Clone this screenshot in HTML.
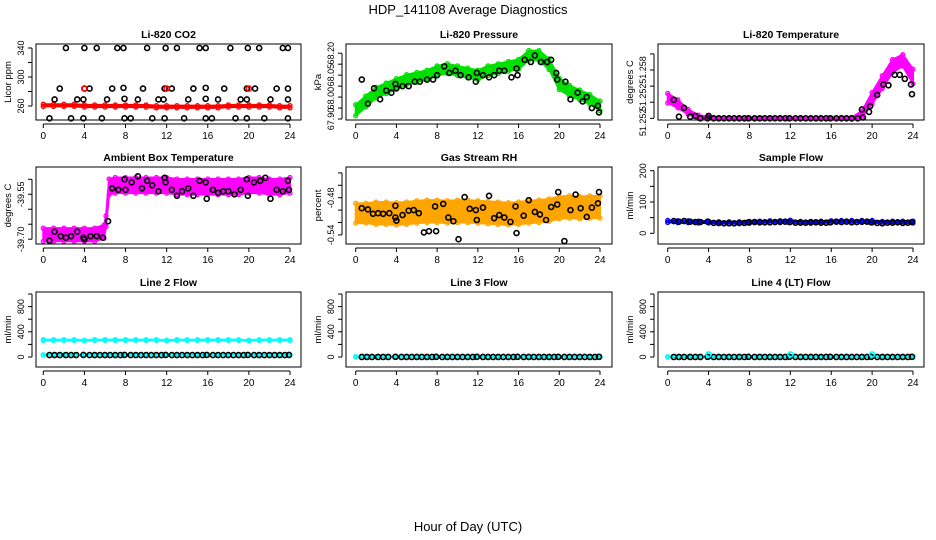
<!DOCTYPE html>
<html><head><meta charset="utf-8"><style>
html,body{margin:0;padding:0;background:#fff}
svg{display:block;font-family:"Liberation Sans",sans-serif}
</style></head><body>
<svg id="chart" width="936" height="540" viewBox="0 0 936 540" xmlns="http://www.w3.org/2000/svg">
<rect width="936" height="540" fill="#fff"/>
<text x="468" y="14" text-anchor="middle" font-size="13">HDP_141108  Average Diagnostics</text>
<text x="468" y="531" text-anchor="middle" font-size="13">Hour of Day (UTC)</text>
</svg>
<script>
// ---- shared data ----
const bandHours=[0,1,2,3,4,5,6,7,8,9,10,11,12,13,14,15,16,17,18,19,20,21,22,23,24];
const xTicks=[0,4,8,12,16,20,24];
const halfHours=[0.6,1.1,1.6,2.2,2.7,3.2,3.9,4.5,5.0,5.5,6.0,6.5,7.0,7.5,7.9,8.5,9.0,9.5,10.0,10.5,11.0,11.5,11.9,12.5,13.0,13.5,14.0,14.5,15.0,15.5,15.9,16.5,17.0,17.5,18.0,18.5,19.0,19.5,19.9,20.5,21.0,21.5,22.0,22.5,23.0,23.5,23.9];

// Panel 1: CO2
const co2Band=[261,261,261,261,260,260,260,260,260,260,260,259,259,259,259,259,259,259,260,260,260,260,260,259,259];
const co2BandHalf=[1.5,1.5,1.5,1.5,1.5,1.5,1.5,1.5,1.5,1.5,1.5,1.5,1.5,1.5,1.5,1.5,1.5,1.5,1.5,1.5,1.5,1.5,1.5,1.5,1.5];
const co2PtsX=[2.2,4,5.2,7.2,7.8,10.1,11.9,13,15.2,15.8,18.2,19.9,21,23.3,23.8, 1.6,4,4.5,6.7,7.8,9.7,11.8,12.5,14.6,15.8,17.6,19.8,20.6,22.7,23.8, 1.1,3.3,3.9,6.2,7.9,9.2,11.2,11.7,14.1,15.8,17,19.2,19.8,22.1,23.8, 0.6,2.7,3.9,5.7,7.9,8.5,10.6,11.8,13.7,15.8,16.4,18.7,19.8,21.5,23.8];
const co2PtsY=[340,340,340,340,340,340,340,340,340,340,340,340,340,340,340, 284,284,284,284,285,284,284,284,284,285,284,284,284,284,284, 269,269,269,269,270,269,269,269,269,270,269,269,269,269,269, 243,243,243,243,243,243,243,243,243,243,243,243,243,243,243];
const co2RedX=[4,12,20];
const co2RedY=[284,284,284];

// Panel 2: Pressure
const presBand=[67.94,67.98,68.02,68.04,68.06,68.08,68.09,68.10,68.12,68.13,68.12,68.11,68.10,68.12,68.13,68.14,68.15,68.19,68.19,68.15,68.06,68.03,68.01,67.99,67.96];
const presBandHalf=[0.025,0.025,0.024,0.024,0.024,0.022,0.022,0.022,0.022,0.022,0.022,0.022,0.022,0.022,0.022,0.022,0.022,0.022,0.022,0.024,0.026,0.024,0.022,0.022,0.022];
const presPtsX=[0.6,1.2,1.8,2.4,3,3.5,3.9,4,4.6,5.2,5.8,6.3,7,7.6,8,8.7,9.2,9.8,10.3,11.1,11.8,11.9,12.5,13.1,13.6,14.1,14.6,15.3,15.8,15.9,16.6,17.2,17.6,18.2,18.8,19.2,19.7,19.8,20.6,21.1,21.8,22.3,22.7,23.2,23.8,23.9];
const presPtsY=[68.08,67.97,68.04,67.99,68.03,68.02,68.06,68.04,68.05,68.05,68.07,68.07,68.08,68.08,68.10,68.14,68.11,68.12,68.10,68.09,68.07,68.11,68.10,68.09,68.10,68.12,68.12,68.09,68.13,68.10,68.17,68.16,68.19,68.16,68.16,68.17,68.11,68.08,68.07,67.99,68.02,67.98,68.00,67.95,67.96,67.93];

// Panel 3: Temperature
const tempBand=[51.2545,51.2538,51.2528,51.2522,51.2521,51.2520,51.2520,51.2520,51.2520,51.2520,51.2520,51.2520,51.2520,51.2520,51.2520,51.2520,51.2520,51.2520,51.2520,51.2525,51.2545,51.2565,51.2585,51.2592,51.2572];
const tempBandHalf=[0.0006,0.0005,0.0003,0.0002,0.0001,0.00005,0.00005,0.00005,0.00005,0.00005,0.00005,0.00005,0.00005,0.00005,0.00005,0.00005,0.00005,0.00005,0.0001,0.0004,0.0007,0.0008,0.0008,0.0007,0.0009];
const tempPtsX=[0.6,1.1,1.6,2.2,2.7,3.2,3.9,4.0,4.5,5.0,5.5,6.0,6.5,7.0,7.5,7.9,8.5,9.0,9.5,10.0,10.5,11.0,11.5,11.9,12.5,13.0,13.5,14.0,14.5,15.0,15.5,15.9,16.5,17.0,17.5,18.0,18.6,19.0,19.1,19.7,19.8,20.5,21.1,21.6,22.2,22.7,23.2,23.8,23.9];
const tempPtsY=[51.2543,51.2522,51.2533,51.2522,51.2523,51.2520,51.2520,51.2523,51.2520,51.2520,51.2520,51.2520,51.2520,51.2520,51.2520,51.2520,51.2520,51.2520,51.2520,51.2520,51.2520,51.2520,51.2520,51.2520,51.2520,51.2520,51.2520,51.2520,51.2520,51.2520,51.2520,51.2520,51.2520,51.2520,51.2520,51.2520,51.2520,51.2531,51.2521,51.2528,51.2535,51.2549,51.2562,51.2561,51.2574,51.2574,51.2569,51.2562,51.2550];

// Panel 4: Ambient box temperature
const ambHours=[0,1,2,3,4,5,5.9,6.1,6.4,7,8,9,10,11,12,13,14,15,16,17,18,19,20,21,22,23,24];
const ambBand=[-39.685,-39.685,-39.685,-39.685,-39.685,-39.685,-39.675,-39.64,-39.525,-39.52,-39.52,-39.52,-39.52,-39.52,-39.52,-39.525,-39.525,-39.525,-39.525,-39.525,-39.525,-39.525,-39.52,-39.52,-39.525,-39.525,-39.52];
const ambBandHalf=[0.022,0.022,0.022,0.022,0.022,0.022,0.022,0.018,0.026,0.026,0.026,0.026,0.026,0.026,0.026,0.026,0.026,0.026,0.026,0.026,0.026,0.026,0.026,0.026,0.026,0.026,0.026];
const ambPtsX=[0.6,1.1,1.7,2.2,2.7,3.3,3.9,4,4.6,5.2,5.8,6.3,6.7,7.3,7.9,8,8.6,9.2,9.6,10.1,10.6,11.2,11.8,11.9,12.5,13,13.5,14.1,14.6,15.2,15.8,15.9,16.5,17,17.5,18,18.6,19.2,19.8,19.9,20.5,21.1,21.6,22.1,22.7,23.3,23.8,23.9];
const ambPtsY=[-39.705,-39.675,-39.69,-39.695,-39.69,-39.675,-39.695,-39.70,-39.69,-39.69,-39.695,-39.64,-39.53,-39.535,-39.50,-39.535,-39.51,-39.49,-39.53,-39.505,-39.52,-39.54,-39.495,-39.51,-39.535,-39.555,-39.54,-39.53,-39.555,-39.505,-39.51,-39.565,-39.535,-39.545,-39.54,-39.54,-39.55,-39.535,-39.50,-39.555,-39.51,-39.505,-39.495,-39.565,-39.535,-39.54,-39.505,-39.535];

// Panel 5: Gas stream RH
const rhBand=[-0.505,-0.505,-0.505,-0.505,-0.506,-0.505,-0.503,-0.502,-0.502,-0.503,-0.502,-0.502,-0.503,-0.504,-0.505,-0.506,-0.505,-0.503,-0.502,-0.500,-0.496,-0.495,-0.496,-0.495,-0.495];
const rhBandHalf=[0.016,0.016,0.018,0.018,0.018,0.018,0.018,0.018,0.018,0.018,0.018,0.018,0.018,0.018,0.018,0.018,0.018,0.018,0.018,0.018,0.018,0.018,0.018,0.018,0.018];
const rhPtsX=[0.6,1.2,1.7,2.2,2.7,3.3,3.9,3.9,4.0,4.6,5.2,5.7,6.2,6.7,7.2,7.8,7.9,8.6,9.1,9.6,10.1,10.7,11.2,11.8,11.9,12.5,13.1,13.6,14.1,14.6,15.2,15.7,15.8,16.5,17.0,17.6,18.1,18.7,19.2,19.8,19.9,20.5,21.1,21.6,22.1,22.7,23.2,23.8,23.9];
const rhPtsY=[-0.497,-0.499,-0.506,-0.505,-0.506,-0.505,-0.493,-0.512,-0.517,-0.508,-0.501,-0.500,-0.505,-0.536,-0.534,-0.494,-0.534,-0.490,-0.512,-0.518,-0.547,-0.479,-0.498,-0.500,-0.516,-0.496,-0.477,-0.513,-0.508,-0.512,-0.519,-0.494,-0.537,-0.509,-0.484,-0.503,-0.507,-0.516,-0.495,-0.491,-0.471,-0.550,-0.500,-0.475,-0.497,-0.511,-0.496,-0.489,-0.471];

// Panel 6: Sample flow
const sfBand=[38,37,37,36,36,34,34,34,35,36,37,37,38,35,35,36,37,38,38,38,37,35,36,36,36];
const sfBandHalf=[3,3,3,3,3,3,3,3,3,3,3,3,4,3,3,3,3,3,3,3,4,3,3,3,3];
const sfPtsY=[39,37,39,37,36,36,37,33,33,32,32,32,33,33,35,36,35,35,35,36,37,37,36,34,34,34,35,35,34,34,35,37,36,37,35,36,37,37,35,33,32,34,34,35,33,34,36];

// Panel 7: Line 2 flow
const l2Band=[270,270,270,270,262,270,270,270,270,270,270,270,262,270,270,270,270,270,270,270,262,270,270,270,270];
const l2BandHalf=[6,6,6,6,6,6,6,6,6,6,6,6,6,6,6,6,6,6,6,6,6,6,6,6,6];
const l2PtsY=[30,30,30,30,30,30,32,30,30,30,30,30,30,30,32,30,30,30,30,30,30,30,32,30,30,30,30,30,30,30,32,30,30,30,30,30,30,30,32,30,30,30,30,30,30,30,32];
const l2LowBand=[32,32,32,32,32,32,32,32,32,32,32,32,32,32,32,32,32,32,32,32,32,32,32,32,32];

// Panel 8: Line 3 flow
const l3PtsY=[0,0,0,0,0,0,2,0,0,0,0,0,0,0,2,0,0,0,0,0,0,0,2,0,0,0,0,0,0,0,2,0,0,0,0,0,0,0,2,0,0,0,0,0,0,0,2];
const l3Band=[2,2,2,2,2,2,2,2,2,2,2,2,2,2,2,2,2,2,2,2,2,2,2,2,2];

// Panel 9: Line 4 (LT) flow
const l4PtsY=[0,0,0,0,0,0,2,0,0,0,0,0,0,0,2,0,0,0,0,0,0,0,2,0,0,0,0,0,0,0,2,0,0,0,0,0,0,0,2,0,0,0,0,0,0,0,2];
const l4Band=[2,2,2,2,2,2,2,2,2,2,2,2,2,2,2,2,2,2,2,2,2,2,2,2,2];
const l4BumpX=[4,12,20];
const l4BumpY=[40,40,40];
const flowBandHalf=[4,4,4,4,4,4,4,4,4,4,4,4,4,4,4,4,4,4,4,4,4,4,4,4,4];

// ---- layout ----
const NS='http://www.w3.org/2000/svg';
const svg=document.getElementById('chart');
const colX0=[43.3,355.7,667.7], colX24=[290,600,913];
const colLeft=[36,346,658], colRight=[301,612,924];
const rowTop=[44,167,292], rowBot=[120,244,367];

function mk(tag,attrs,parent){const e=document.createElementNS(NS,tag);for(const k in attrs)e.setAttribute(k,attrs[k]);(parent||svg).appendChild(e);return e;}

function panel(cfg){
  const c=cfg.col,r=cfg.row;
  const g=mk('g',{});
  
  
  const xs=h=>colX0[c]+(colX24[c]-colX0[c])*h/24;
  const ys=v=>rowBot[r]-(v-cfg.ymin)/(cfg.ymax-cfg.ymin)*(rowBot[r]-rowTop[r]);
  const L=colLeft[c],R=colRight[c],T=rowTop[r],B=rowBot[r];
  const t=mk('text',{x:(L+R)/2,y:T-6,'text-anchor':'middle','font-size':10.5,'font-weight':'bold'},g);
  t.textContent=cfg.title;
  
  
  (cfg.bands||[]).forEach(b=>{
    let pts=[];
    b.h.forEach((h,i)=>pts.push(xs(h)+','+ys(b.c[i]+b.w[i])));
    for(let i=b.h.length-1;i>=0;i--)pts.push(xs(b.h[i])+','+ys(b.c[i]-b.w[i]));
    const p=mk('polygon',{points:pts.join(' '),fill:b.color,stroke:b.color,'stroke-width':2,'stroke-linejoin':'round'},g);
    
    
    b.h.forEach((h,i)=>{
      [b.c[i]+b.w[i],b.c[i]-b.w[i]].forEach(v=>{
        const ci=mk('circle',{cx:xs(h),cy:ys(v),r:2,fill:'none',stroke:b.color,'stroke-width':1.3},g);
        
        
      });
    });
  });
  (cfg.points||[]).forEach(s=>{
    s.x.forEach((h,i)=>{
      const ci=mk('circle',{cx:xs(h),cy:ys(s.y[i]),r:2.5,fill:'none',stroke:s.color,'stroke-width':1.6},g);
      
      
    });
  });
  const box=mk('rect',{x:L,y:T,width:R-L,height:B-T,fill:'none',stroke:'#000','stroke-width':1},g);
  
  
  const xl=mk('line',{x1:xs(0),x2:xs(24),y1:B+4,y2:B+4,stroke:'#000'},g);
  
  
  xTicks.forEach(h=>{
    mk('line',{x1:xs(h),x2:xs(h),y1:B+4,y2:B+8,stroke:'#000'},g);
    const tl=mk('text',{x:xs(h),y:B+19,'text-anchor':'middle','font-size':10},g);
    tl.textContent=h;
    
    
  });
  const ya=mk('line',{x1:L-4,x2:L-4,y1:ys(cfg.ticks[0]),y2:ys(cfg.ticks[cfg.ticks.length-1]),stroke:'#000'},g);
  
  
  cfg.ticks.forEach(v=>mk('line',{x1:L-8,x2:L-4,y1:ys(v),y2:ys(v),stroke:'#000'},g));
  cfg.labels.forEach((lab,i)=>{
    const y=ys(cfg.labelVals[i]);
    const tl=mk('text',{x:L-12,y:y,'text-anchor':'middle','font-size':9,transform:`rotate(-90 ${L-12} ${y})`},g);
    tl.textContent=lab;
    
    
  });
  const yt=mk('text',{x:L-25,y:(T+B)/2,'text-anchor':'middle','font-size':9.5,transform:`rotate(-90 ${L-25} ${(T+B)/2})`},g);
  yt.textContent=cfg.ylab;
  
  
}

panel({name:'co2-panel',col:0,row:0,title:'Li-820 CO2',ylab:'Licor ppm',ymin:240.7,ymax:345.5,
  ticks:[260,280,300,320,340],labels:['260','300','340'],labelVals:[260,300,340],
  bands:[{h:bandHours,c:co2Band,w:co2BandHalf,color:'#ff0000'}],
  points:[{x:co2PtsX,y:co2PtsY,color:'#000'},{x:co2RedX,y:co2RedY,color:'#ff0000'}]});
panel({name:'pressure-panel',col:1,row:0,title:'Li-820 Pressure',ylab:'kPa',ymin:67.8955,ymax:68.242,
  ticks:[67.90,67.95,68.00,68.05,68.10,68.15,68.20],labels:['67.90','68.00','68.05','68.20'],labelVals:[67.90,67.995,68.10,68.20],
  bands:[{h:bandHours,c:presBand,w:presBandHalf,color:'#00e000'}],
  points:[{x:presPtsX,y:presPtsY,color:'#000'}]});
panel({name:'temperature-panel',col:2,row:0,title:'Li-820 Temperature',ylab:'degrees C',ymin:51.25179,ymax:51.26123,
  ticks:[51.252,51.254,51.256,51.258,51.260],labels:['51.252','51.252','51.258'],labelVals:[51.2515,51.2546,51.258],
  bands:[{h:bandHours,c:tempBand,w:tempBandHalf,color:'#ff00ff'}],
  points:[{x:tempPtsX,y:tempPtsY,color:'#000'}]});
panel({name:'ambient-temp-panel',col:0,row:1,title:'Ambient Box Temperature',ylab:'degrees C',ymin:-39.716,ymax:-39.459,
  ticks:[-39.70,-39.65,-39.60,-39.55,-39.50],labels:['-39.70','-39.55'],labelVals:[-39.70,-39.55],
  bands:[{h:ambHours,c:ambBand,w:ambBandHalf,color:'#ff00ff'}],
  points:[{x:ambPtsX,y:ambPtsY,color:'#000'}]});
panel({name:'rh-panel',col:1,row:1,title:'Gas Stream RH',ylab:'percent',ymin:-0.5547,ymax:-0.4305,
  ticks:[-0.54,-0.52,-0.50,-0.48,-0.46,-0.44],labels:['-0.54','-0.48'],labelVals:[-0.54,-0.48],
  bands:[{h:bandHours,c:rhBand,w:rhBandHalf,color:'#ffa500'}],
  points:[{x:rhPtsX,y:rhPtsY,color:'#000'}]});
panel({name:'sample-flow-panel',col:2,row:1,title:'Sample Flow',ylab:'ml/min',ymin:-34.2,ymax:211.8,
  ticks:[0,50,100,150,200],labels:['0','100','200'],labelVals:[0,100,200],
  bands:[{h:bandHours,c:sfBand,w:sfBandHalf,color:'#0000ff'}],
  points:[{x:halfHours,y:sfPtsY,color:'#000'}]});
panel({name:'line2-flow-panel',col:0,row:2,title:'Line 2 Flow',ylab:'ml/min',ymin:-159,ymax:1032,
  ticks:[0,200,400,600,800,1000],labels:['0','400','800'],labelVals:[0,400,800],
  bands:[{h:bandHours,c:l2Band,w:l2BandHalf,color:'#00ffff'},{h:bandHours,c:l2LowBand,w:flowBandHalf,color:'#00ffff'}],
  points:[{x:halfHours,y:l2PtsY,color:'#000'}]});
panel({name:'line3-flow-panel',col:1,row:2,title:'Line 3 Flow',ylab:'ml/min',ymin:-159,ymax:1032,
  ticks:[0,200,400,600,800,1000],labels:['0','400','800'],labelVals:[0,400,800],
  bands:[{h:bandHours,c:l3Band,w:flowBandHalf,color:'#00ffff'}],
  points:[{x:halfHours,y:l3PtsY,color:'#000'}]});
panel({name:'line4-flow-panel',col:2,row:2,title:'Line 4 (LT) Flow',ylab:'ml/min',ymin:-159,ymax:1032,
  ticks:[0,200,400,600,800,1000],labels:['0','400','800'],labelVals:[0,400,800],
  bands:[{h:bandHours,c:l4Band,w:flowBandHalf,color:'#00ffff'}],
  points:[{x:halfHours,y:l4PtsY,color:'#000'},{x:l4BumpX,y:l4BumpY,color:'#00ffff'}]});
</script>
</body></html>
